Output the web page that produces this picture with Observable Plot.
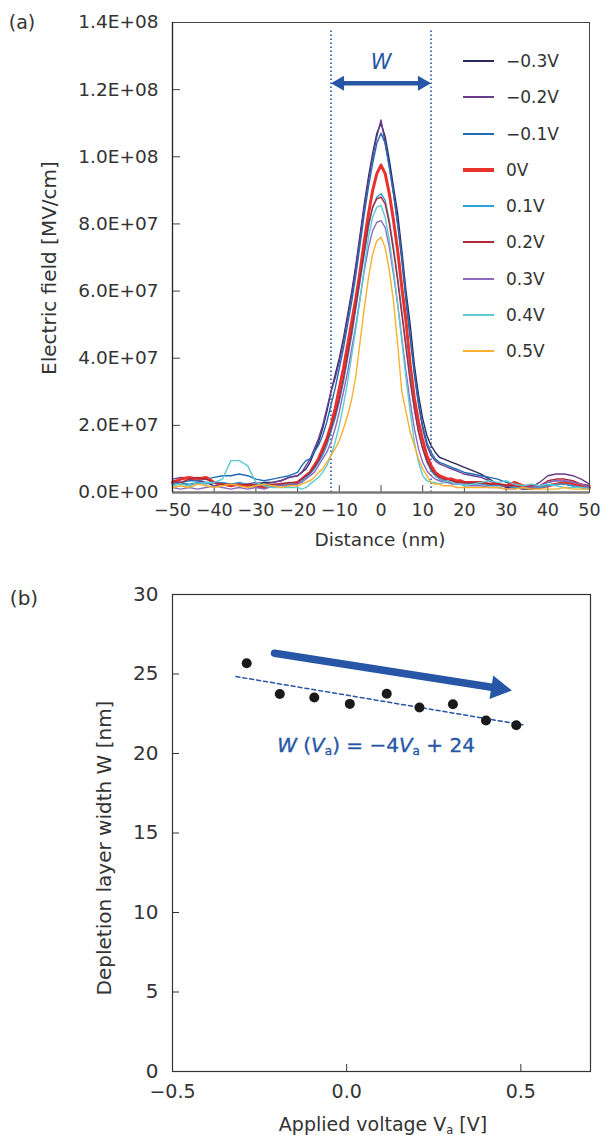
<!DOCTYPE html>
<html><head><meta charset="utf-8">
<script src="https://cdn.jsdelivr.net/npm/d3@7"></script>
<script src="https://cdn.jsdelivr.net/npm/@observablehq/plot@0.6"></script>
<style>
body{margin:0;background:#fff;}
#wrap{position:relative;width:601px;height:1135px;font-family:"DejaVu Sans",sans-serif;color:#333;overflow:hidden;}
#wrap svg{position:absolute;left:0;font-family:"DejaVu Sans",sans-serif;}
.lbl{position:absolute;white-space:nowrap;transform:translate(-50%,-50%);line-height:1;}
.rot{transform:translate(-50%,-50%) rotate(-90deg);}
.lg{position:absolute;}
sub{font-size:0.6em;vertical-align:baseline;position:relative;top:0.25em;font-style:normal;}
</style></head><body><div id="wrap"></div><script>
// ---------- (a) Electric field profiles (values in units of 1E+06) ----------
const voltages = ["−0.3V","−0.2V","−0.1V","0V","0.1V","0.2V","0.3V","0.4V","0.5V"];
const colors = ["#2b2a5c","#6a3d8f","#1f6db5","#e8322c","#2aa1d9","#b0263a","#8c6bbf","#5ecad3","#f7b12c"];
const widths = [1.4,1.4,1.4,3,1.4,1.4,1.4,1.4,1.4];
const distance = [-50,-48,-46,-44,-42,-40,-38,-36,-34,-32,-30,-28,-26,-24,-22,
  -20,-19,-18,-17,-16,-15,-14,-13,-12,-11,-10,-9,-8,-7,-6,-5,-4,-3,-2,-1,0,1,2,3,4,5,6,7,8,9,10,11,12,13,14,15,16,17,18,19,20,
  22,24,26,28,30,32,34,36,38,40,42,44,46,48,50];
const fieldM03 = [2.5,3,2,2.5,3,2,2.5,2,2.5,2,2.5,3,3,3.5,4.5,
  5,6,7,9,12,15,19,24,30,35,40,46,53,60,68,77,86,94,101,107,110,106,99,91,83,72,60,50,38,29,22,17,14,12,10.5,10,9.5,9,8.5,8,7.5,
  6.5,5.5,4,2.5,1.5,1.5,1,1,1.5,2,2.5,2.5,2,1.5,1];
const fieldM02 = [4,4.5,4,3.5,3,3,2.5,2.5,2,2.5,3,2.5,3,3.5,4.5,
  5,6,8,10,13,16,20,25,30,34,39,45,52,59,67,76,85,93,100,106,111,104,97,89,80,69,57,46,35,26,19,14,11,9.5,8.5,8,7.5,7,6.5,6,5.5,
  5,4.5,3.5,2.5,2,1.5,1.5,1.5,3,5,5.5,5.5,5,4,2.5];
const fieldM01 = [3,3,3.5,3.5,4,4.5,5,5,5.5,5,4,3.5,4,4.5,5,
  6,8,9.5,10,12,14,17,21,26,31,37,43,50,57,65,74,83,91,98,104,107,104,97,89,80,70,58,47,36,27,20,15,12,10,9,8.5,8,7.5,7,6.5,6,
  5.5,5,4.5,4,3,2.5,2,1.5,2,3,3.5,3.5,3,2.5,2];
const field0 = [3,4,4.5,4,4.5,3,2.5,2,2.5,2,2,1.5,2,2.5,2.5,
  3,4,5,6,8,10,13,16,20,25,31,37,44,51,58,66,75,83,90,95,97.5,95,89,81,72,61,51,38,28,21,15.5,11,8,6,5,4.5,4,4,3.5,3.5,3,
  3,3,2.5,2.5,2,3,2,1.5,1.5,2,2.5,3,2.5,2,1.5];
const fieldP01 = [2.5,3,2.5,3,2.5,3,3,2.5,3,2.5,2,2.5,2,2.5,2.5,
  3,3.5,4.5,5.5,7,9,11,14,18,22,27,33,40,47,55,63,71,79,85,88,89,87,81,73,64,54,44,34,25,18,13,9,6.5,5,4,3.5,3,3,2.5,2.5,2.5,
  2.5,2.5,2,2,2,1.5,1.5,1.5,1.5,2,2.5,2.5,2,1.5,1.5];
const fieldP02 = [3.5,3,4,4.5,4,3,2.5,2.5,2,2.5,2,2,2.5,2.5,3,
  3,4,5,6,7.5,9.5,12,15,19,23,28,34,41,48,56,64,72,80,85,87.5,88,86,80,72,63,53,43,33,25,18,13,9.5,7,5.5,4.5,4,3.5,3.5,3,3,3,
  3,3,2.5,2.5,2,2,1.5,2,2,3.5,4,4,3.5,2.5,2];
const fieldP03 = [1.5,1,1.5,1,1.5,2,1.5,1,1.5,1,1.5,1,2,2,2,
  2.5,3,4,5,6,8,10,12,15,19,24,30,36,43,50,58,66,73,78,80.5,81,79,73,65,56,46,36,27,19,13,9,6.5,5,4,3.5,3,3,2.5,2.5,2.5,2,
  2,2,1.5,1.5,1,1,1.5,1.5,2,3,3.5,3.5,3,2.5,1.5];
const fieldP04 = [2,2.5,2,2.5,3,3,4,9.5,9.5,8,3,2,1.5,1.5,1.5,
  1.5,1,1.5,2.5,3.5,4.5,6,8,11,15,20,26,33,41,49,58,67,76,82,85,85.5,82,75,66,56,45,34,24,15,9,5,3.5,3,3,2.5,3,3.5,3,2.5,2.5,2,
  2.5,3,3.5,3,3.5,2.5,2,2.5,2,2.5,2,1.5,1.5,1.5,1];
const fieldP05 = [1.5,2,1.5,2.5,2,1.5,2,2.5,2,1.5,2,2.5,2,1.5,2,
  2,2.5,3,3.5,4.5,6,7,9,11,13,15.5,19,23,28,35,45,55,64,71,75,76,73,66,57,44,30,24,18,14,10,7,5,3,2.5,2.5,2,2,2,1.5,1.5,1.5,
  1.5,1.5,1.5,1.5,1,1,1.5,1,1,1,1,1.5,1,1,1];
const fieldSeries = [fieldM03,fieldM02,fieldM01,field0,fieldP01,fieldP02,fieldP03,fieldP04,fieldP05];
const xTicksA = [-50,-40,-30,-20,-10,0,10,20,30,40,50];
const yTicksA = [0,2e7,4e7,6e7,8e7,1e8,1.2e8,1.4e8];
// W annotation (a)
const wEdges = [-12, 12];
const wShaftX = [-10, 10];
const wShaftY = [1.219e8, 1.219e8];
const wHeadX = [-9.9, 9.9];
const wHeadRot = [-90, 90];
const wLabelPos = [{x: 0, y: 1.282e8}];

// ---------- (b) Depletion layer width ----------
const appliedV = [-0.287,-0.192,-0.093,0.009,0.115,0.209,0.305,0.400,0.487];
const widthW = [25.68,23.74,23.52,23.12,23.76,22.89,23.10,22.08,21.78];
const fitV = [-0.318, 0.513];
const fitW = [24.84, 21.78];
const trendV = [-0.207, 0.435];
const trendW = [26.31, 24.10];
const xTicksB = [-0.5, 0, 0.5];
const yTicksB = [0,5,10,15,20,25,30];

const blue = "#2756a6";

const yFmt = v => {
  if (v === 0) return "0.0E+00";
  const e = Math.floor(Math.log10(v) + 1e-9);
  return (v / 10 ** e).toFixed(1) + "E+" + String(e).padStart(2, "0");
};

const lineMarks = fieldSeries.map((vals, i) =>
  Plot.line(distance.map((d, j) => ({d, e: vals[j] * 1e6})),
    {x: "d", y: "e", stroke: colors[i], strokeWidth: widths[i], strokeLinejoin: "round"}));

const plotA = Plot.plot({
  width: 601, height: 565, marginLeft: 172, marginRight: 12, marginTop: 22, marginBottom: 73,
  style: {fontFamily: "DejaVu Sans", fontSize: "17px", color: "#333", background: "transparent"},
  x: {domain: [-50, 50]},
  y: {domain: [0, 1.4e8]},
  marks: [
    Plot.axisX(xTicksA, {tickSize: 0, tickPadding: 11, tickFormat: d3.format("d"), label: null, fontSize: 17.5, fill: "#333"}),
    Plot.axisY(yTicksA, {tickSize: 0, tickPadding: 14, tickFormat: yFmt, label: null, fontSize: 18.5, fill: "#333"}),
    Plot.tickX(xTicksA.slice(1, -1), {x: d => d, insetTop: 463, stroke: "#444"}),
    Plot.tickY(yTicksA.slice(1, -1), {y: d => d, insetRight: 409, stroke: "#444"}),
    Plot.ruleX(wEdges, {x: d => d, y1: 0, y2: 1.38e8, stroke: blue, strokeWidth: 1.6, strokeDasharray: "1.6,2.4"}),
    ...lineMarks,
    Plot.frame({stroke: "#444", strokeWidth: 1}),
    Plot.ruleY([0], {stroke: "#7a7a7a", strokeWidth: 2.5}),
    Plot.ruleX([-50], {stroke: "#222", strokeWidth: 1.3}),
    Plot.line(wShaftX.map((x, i) => ({x, y: wShaftY[i]})), {x: "x", y: "y", stroke: blue, strokeWidth: 4.5}),
    Plot.dot(wHeadX.map((x, i) => ({x, y: wShaftY[i], r: wHeadRot[i]})),
      {x: "x", y: "y", symbol: "triangle", r: 5.6, rotate: "r", fill: blue, stroke: "none"}),
    Plot.text(wLabelPos, {x: "x", y: "y", text: () => "W", fill: blue, fontSize: 21, fontStyle: "italic"})
  ]
});

const plotB = Plot.plot({
  width: 601, height: 570, marginLeft: 172, marginRight: 11, marginTop: 29, marginBottom: 64,
  style: {fontFamily: "DejaVu Sans", fontSize: "19px", color: "#333", background: "transparent"},
  x: {domain: [-0.5, 0.7]},
  y: {domain: [0, 30]},
  marks: [
    Plot.axisX(xTicksB, {tickSize: 0, tickPadding: 13, tickFormat: d3.format(".1f"), label: null, fontSize: 19, fill: "#333"}),
    Plot.axisY(yTicksB, {tickSize: 0, tickPadding: 14, tickFormat: d3.format("d"), label: null, fontSize: 20, fill: "#333"}),
    Plot.tickX(xTicksB.slice(1), {x: d => d, insetTop: 470, stroke: "#333"}),
    Plot.tickY(yTicksB.slice(1, -1), {y: d => d, insetRight: 411, stroke: "#333"}),
    Plot.frame({stroke: "#333", strokeWidth: 1.2}),
    Plot.line(fitV.map((v, i) => ({v, w: fitW[i]})), {x: "v", y: "w", stroke: blue, strokeWidth: 1.5, strokeDasharray: "4,3"}),
    Plot.line(trendV.map((v, i) => ({v, w: trendW[i]})), {x: "v", y: "w", stroke: blue, strokeWidth: 7.5}),
    Plot.dot([{v: trendV[1], w: trendW[1]}], {x: "v", y: "w", symbol: "triangle", r: 8.9, rotate: 99, fill: blue, stroke: "none"}),
    Plot.dot(appliedV.map((v, i) => ({v, w: widthW[i]})), {x: "v", y: "w", r: 5, fill: "#1a1a1a", stroke: "none"})
  ]
});

const wrap = document.getElementById("wrap");
plotA.style.top = "0px";
plotB.style.top = "565px";
wrap.appendChild(plotA);
wrap.appendChild(plotB);

function addLabel(html, x, y, size, extraClass, styleExtra) {
  const el = document.createElement("div");
  el.className = "lbl" + (extraClass ? " " + extraClass : "");
  el.innerHTML = html;
  el.style.left = x + "px";
  el.style.top = y + "px";
  el.style.fontSize = size + "px";
  if (styleExtra) Object.assign(el.style, styleExtra);
  wrap.appendChild(el);
}
addLabel("(a)", 22, 22, 19);
addLabel("(b)", 24, 598, 20);
addLabel("Electric field [MV/cm]", 49, 268, 20, "rot");
addLabel("Distance (nm)", 380, 540, 18.5);
addLabel("Depletion layer width W [nm]", 104, 848, 20, "rot");
addLabel("Applied voltage V<sub>a</sub> [V]", 383, 1124, 19);
addLabel("<i>W</i> (<i>V</i><sub>a</sub>) = −4<i>V</i><sub>a</sub> + 24", 376, 745, 20, null, {color: blue, fontWeight: "500", WebkitTextStroke: "0.35px " + blue});

// legend (a)
voltages.forEach((v, i) => {
  const cy = 61 + i * 36.25;
  const ln = document.createElement("div");
  ln.className = "lg";
  const h = i === 3 ? 4 : 2;
  Object.assign(ln.style, {left: "463px", width: "31px", top: (cy - h / 2) + "px", height: h + "px", background: colors[i]});
  wrap.appendChild(ln);
  const tx = document.createElement("div");
  tx.className = "lg";
  tx.textContent = v;
  Object.assign(tx.style, {left: "506px", top: (cy - 10) + "px", fontSize: "17px", lineHeight: "20px", color: "#333"});
  wrap.appendChild(tx);
});
</script></body></html>
